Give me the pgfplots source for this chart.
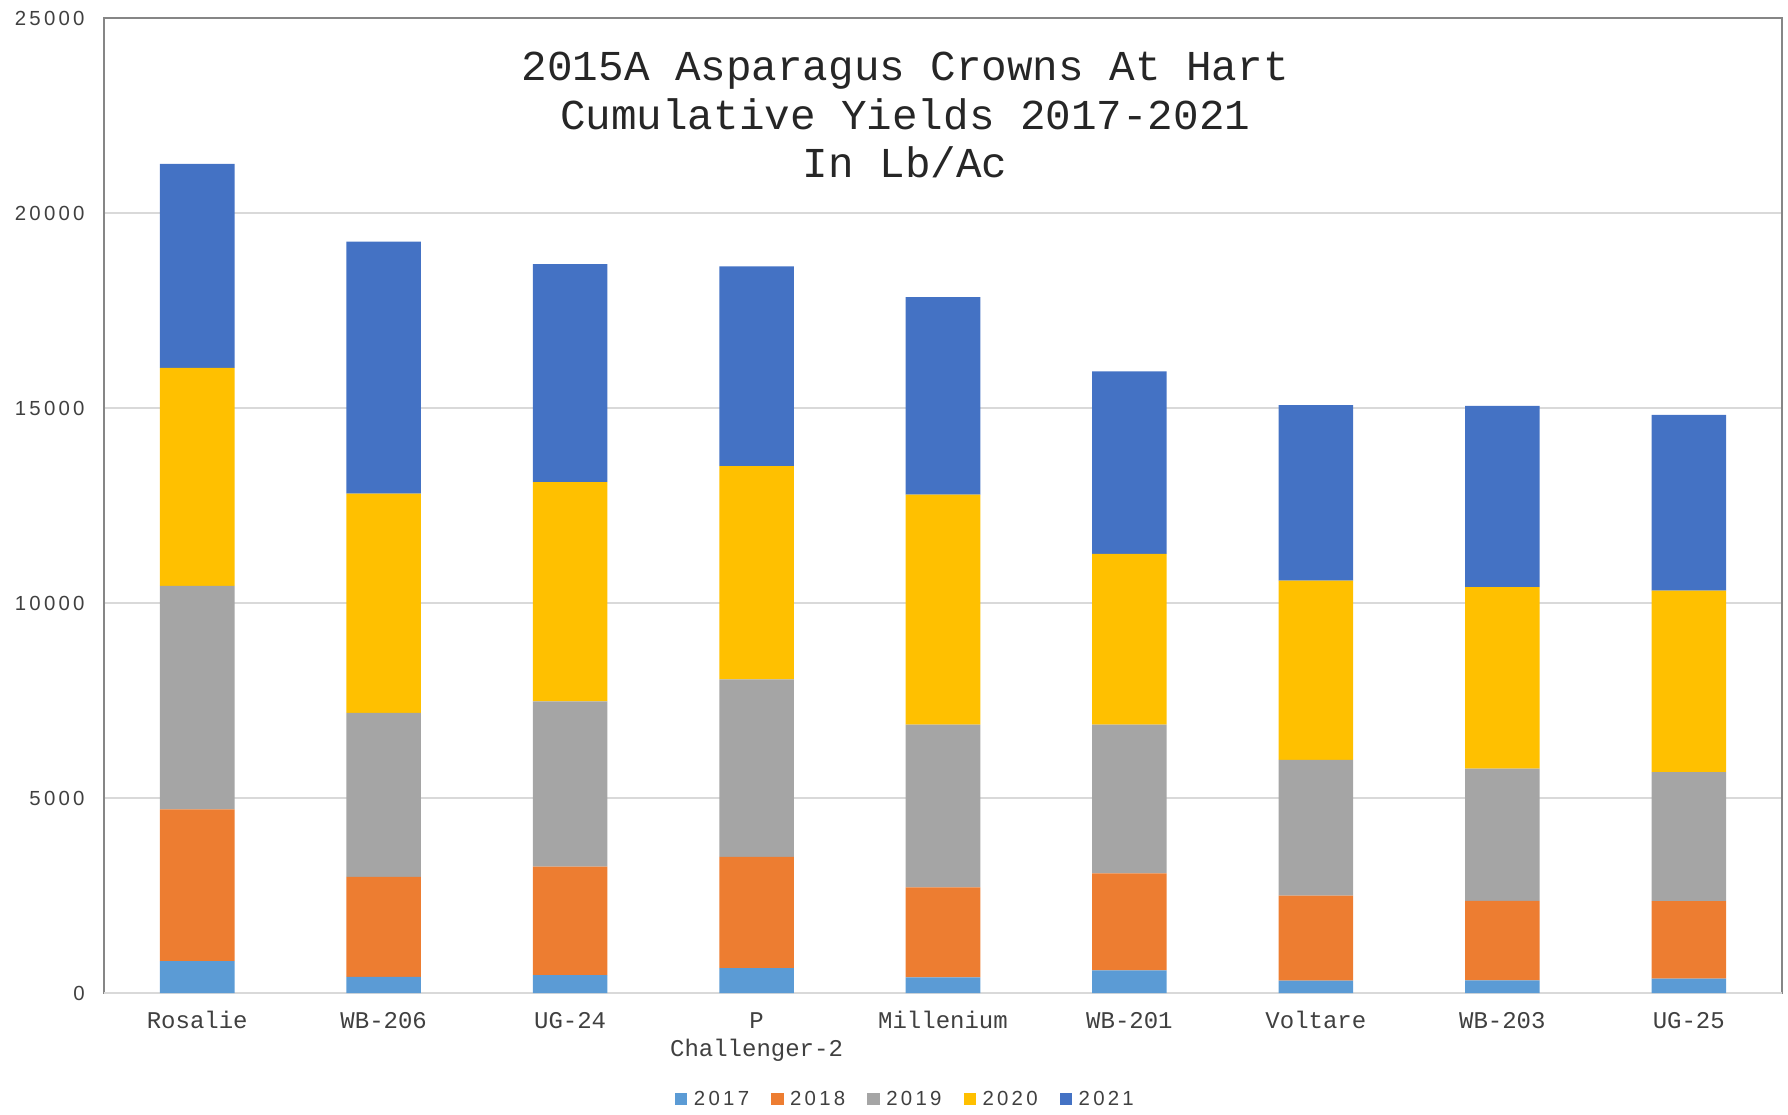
\documentclass[border=0pt]{standalone}
\usepackage{pgfplots}
\pgfplotsset{compat=1.18}
\usepackage{fontspec}
\setmainfont{Liberation Mono}
\newfontfamily\ticksans[LetterSpace=16]{Liberation Sans}
\definecolor{c17}{HTML}{5B9BD5}
\definecolor{c18}{HTML}{ED7D31}
\definecolor{c19}{HTML}{A5A5A5}
\definecolor{c20}{HTML}{FFC000}
\definecolor{c21}{HTML}{4472C4}
\definecolor{gridgray}{HTML}{D9D9D9}
\definecolor{framegray}{HTML}{868686}
\definecolor{txt}{HTML}{404040}
\begin{document}
\begin{tikzpicture}
\path[use as bounding box] (-52pt,-60.5pt) rectangle (842pt,496.5pt);
\begin{axis}[
  at={(0,0)}, anchor=south west,
  scale only axis, width=839pt, height=487.5pt,
  ybar stacked, bar width=0.4,
  xmin=-0.5, xmax=8.5, ymin=0, ymax=25000,
  xtick={0,...,8},
  xticklabels={\strut Rosalie,\strut WB-206,\strut UG-24,{\strut P\\Challenger-2},\strut Millenium,\strut WB-201,\strut Voltare,\strut WB-203,\strut UG-25},
  ytick={0,5000,...,25000},
  scaled y ticks=false,
  /pgf/number format/1000 sep={},
  /pgf/number format/assume math mode=true,
  major tick length=0pt,
  ymajorgrids, grid style={color=gridgray, line width=1pt},
  axis line style={color=framegray, line width=1pt},
  xticklabel style={font=\fontsize{12}{14.3}\selectfont, text=txt, anchor=north, inner sep=0pt, yshift=-7.3pt, align=center},
  yticklabel style={font=\ticksans\fontsize{10.2}{12}\selectfont, text=txt, anchor=east, inner sep=0pt, xshift=-9.5pt},
  legend columns=5,
  legend style={draw=none, at={(rel axis cs:0.477,-0.1097)}, anchor=center,
    font=\ticksans\fontsize{10.2}{12}\selectfont, text=txt,
    /tikz/every odd column/.append style={column sep=3.3pt},
    /tikz/every even column/.append style={column sep=11pt},
    nodes={inner sep=0pt}},
  legend image code/.code={\fill[#1,draw=none] (0pt,-2.7pt) rectangle (6.2pt,3.5pt);},
]
\addplot[fill=c17, draw=none] coordinates {(0,820) (1,415) (2,460) (3,640) (4,400) (5,580) (6,315) (7,325) (8,370)};
\addplot[fill=c18, draw=none] coordinates {(0,3890) (1,2560) (2,2780) (3,2850) (4,2310) (5,2490) (6,2180) (7,2035) (8,1985)};
\addplot[fill=c19, draw=none] coordinates {(0,5730) (1,4210) (2,4240) (3,4550) (4,4170) (5,3810) (6,3480) (7,3395) (8,3310)};
\addplot[fill=c20, draw=none] coordinates {(0,5590) (1,5620) (2,5620) (3,5470) (4,5900) (5,4380) (6,4600) (7,4650) (8,4650)};
\addplot[fill=c21, draw=none] coordinates {(0,5230) (1,6460) (2,5590) (3,5120) (4,5060) (5,4680) (6,4500) (7,4650) (8,4510)};
\legend{2017,2018,2019,2020,2021}
\draw[color=gridgray, line width=1pt] (rel axis cs:0,0) -- (rel axis cs:1,0);
\node[align=center, font=\fontsize{21.3}{24.3}\selectfont, text=black!85] at (rel axis cs:0.4775,0.9005)
  {2015A Asparagus Crowns At Hart\\Cumulative Yields 2017-2021\\In Lb/Ac};
\end{axis}
\end{tikzpicture}
\end{document}
